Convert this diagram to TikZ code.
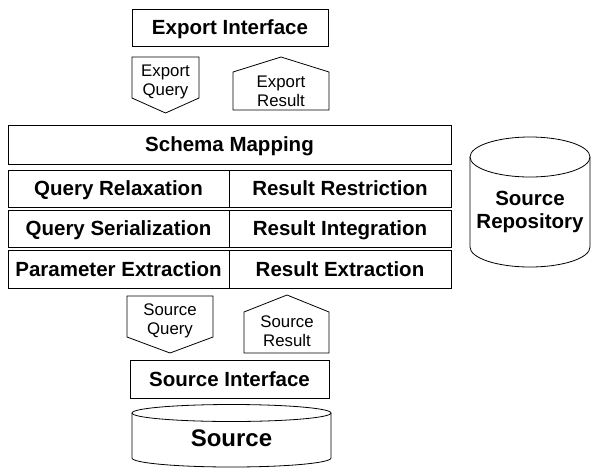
\documentclass[tikz,border=0pt]{standalone}
\usepackage{fontspec}
\setmainfont{Liberation Sans}
\tikzset{
  camada/.style={draw, line width=0.8pt, inner sep=0pt, text height=14.5pt, text depth=0pt,
    font=\fontsize{20.5}{23}\selectfont\bfseries},
  rotulo/.style={align=center, inner sep=0pt, font=\fontsize{16.8}{19.5}\selectfont},
}
\begin{document}
\begin{tikzpicture}[x=1pt,y=-1pt,line width=0.8pt] %Desenho em pixels, y para baixo
\useasboundingbox (0,0) rectangle (591,469);
	%Interface de exportacao
\node[camada, minimum width=196pt, minimum height=37pt] (expint) at (230,27.5) {Export Interface};
\draw (132,57) -- (199,57) -- (199,98) -- (165.5,113) -- (132,98) -- cycle; %Seta para baixo
\node[rotulo] (expquery) at (165.5,82) {Export\\Query};
\draw (233,72) -- (281,57) -- (329,72) -- (329,110) -- (233,110) -- cycle; %Seta para cima
\node[rotulo] (expresult) at (281,91.5) {Export\\Result};
	%Camadas do meio
\node[camada, minimum width=443pt, minimum height=39pt] (schema) at (229.5,144.5) {Schema Mapping};
\node[camada, minimum width=221pt, minimum height=37pt] (qrelax) at (118.5,188.5) {Query Relaxation};
\node[camada, minimum width=222pt, minimum height=37pt] (rrestr) at (340,188.5) {Result Restriction};
\node[camada, minimum width=221pt, minimum height=37pt] (qserial) at (118.5,228.5) {Query Serialization};
\node[camada, minimum width=222pt, minimum height=37pt] (rinteg) at (340,228.5) {Result Integration};
\node[camada, minimum width=221pt, minimum height=38pt] (pextr) at (118.5,269) {Parameter Extraction};
\node[camada, minimum width=222pt, minimum height=38pt] (rextr) at (340,269) {Result Extraction};
	%Interface da fonte
\draw (127,296) -- (213,296) -- (213,337) -- (170,353) -- (127,337) -- cycle;
\node[rotulo] (srcquery) at (170,321) {Source\\Query};
\draw (244,312) -- (287,295) -- (329,312) -- (329,353) -- (244,353) -- cycle;
\node[rotulo] (srcresult) at (287,331) {Source\\Result};
\node[camada, minimum width=199pt, minimum height=38pt] (srcint) at (229.5,379) {Source Interface};
	%Cilindros
\draw (132,413) -- (132,458) arc[start angle=180, end angle=360, x radius=99.5pt, y radius=9pt] -- (331,413);
\draw (231.5,413) ellipse [x radius=99.5pt, y radius=8.5pt];
\node[inner sep=0pt, font=\fontsize{24}{28}\selectfont\bfseries] (source) at (231.5,438) {Source};
\draw (470,157) -- (470,247) arc[start angle=180, end angle=360, x radius=60pt, y radius=20pt] -- (590,157);
\draw (530,157) ellipse [x radius=60pt, y radius=20pt];
\node[inner sep=0pt, align=center, font=\fontsize{20.5}{23}\selectfont\bfseries] (repo) at (530,212) {Source\\Repository};
\end{tikzpicture}
\end{document}
